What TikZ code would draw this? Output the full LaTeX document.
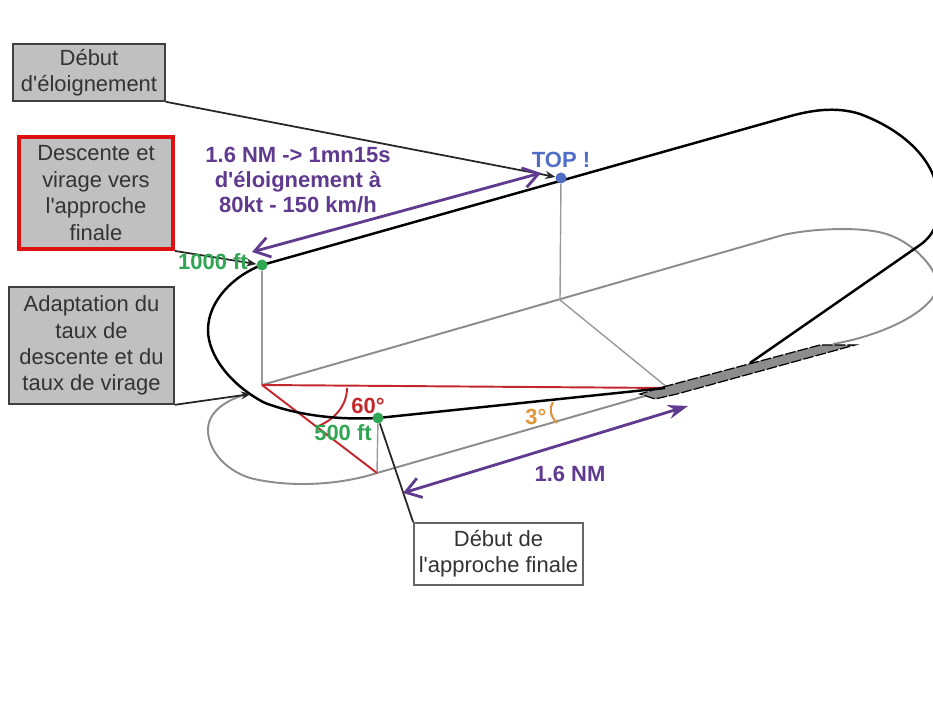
\documentclass[tikz,border=0pt]{standalone}
\usepackage{fontspec}
\setmainfont{Liberation Sans}[Ligatures=TeXOff]
\usetikzlibrary{arrows.meta,positioning,calc}
\definecolor{boxgray}{HTML}{C0C0C0}
\definecolor{ovalgray}{HTML}{8C8C8C}
\definecolor{thingray}{HTML}{9A9A9A}
\definecolor{anglered}{HTML}{C4272B}
\definecolor{boxred}{HTML}{DD1111}
\definecolor{pathpurple}{HTML}{5F3A8E}
\definecolor{dotgreen}{HTML}{2FA653}
\definecolor{topblue}{HTML}{4F6DC4}
\definecolor{slopeorange}{HTML}{E0963C}

\begin{document}
\begin{tikzpicture}[
    x=0.01cm, y=-0.01cm,
    note/.style={draw=black!75, line width=0.45pt, fill=boxgray, text=black!80, font=\fontsize{6.25}{7.5}\selectfont, align=center, inner sep=0pt},
    whitenote/.style={note, fill=white, draw=black!60},
    oval/.style={draw=ovalgray, line width=0.55pt},
    thingrayline/.style={draw=thingray, line width=0.4pt},
    flight/.style={draw=black, line width=0.7pt},
    redline/.style={draw=anglered, line width=0.55pt},
    leader/.style={draw=black!85, line width=0.5pt, -{Stealth[length=1mm,width=0.8mm]}},
    distline/.style={draw=pathpurple, line width=0.8pt},
    dot/.style={circle, inner sep=0pt, minimum size=0.1cm},
    tag/.style={font=\fontsize{6.25}{7.1}\selectfont\bfseries, align=center, inner sep=0pt}
]
    \useasboundingbox (0,0) rectangle (933,704);
    \fill[white] (0,0) rectangle (933,704);
    \clip (0,0) rectangle (933,704);

    % Points on the flight path
    \node[dot, fill=dotgreen] (alt1000) at (262,265) {};
    \node[dot, fill=topblue] (top) at (561,178) {};
    \node[dot, fill=dotgreen] (final) at (378,418) {};

    \coordinate (gcenter) at (262,385);
    \coordinate (gtop) at (560,300);
    \coordinate (gfinal) at (377,473);
    \coordinate (thr) at (665,388);

    % Ground track
    \draw[oval] (gcenter) -- (783,235) .. controls (815,228) and (860,227) .. (883,233)
        .. controls (910,240) and (935,265) .. (938,285)
        .. controls (935,310) and (885,335) .. (833,344);
    \draw[oval] (645,396) -- (gfinal) .. controls (340,485) and (290,488) .. (250,478)
        .. controls (225,470) and (208,450) .. (208,430)
        .. controls (208,412) and (225,400) .. (250,393);

    % Verticals
    \draw[thingrayline] (alt1000) -- (gcenter);
    \draw[thingrayline] (top) -- (gtop);
    \draw[thingrayline] (gtop) -- (668,388);
    \draw[thingrayline] (final) -- (gfinal);

    % Runway
    \draw[draw=black, dash pattern=on 3pt off 0.6pt, line width=0.35pt, fill=black!45]
        (663,387) -- (820,345) -- (855,345) -- (677,394) -- (655,399) -- (640,394) -- cycle;

    % Angle
    \draw[redline] (gcenter) -- (thr);
    \draw[redline] (gcenter) -- (gfinal);
    \draw[redline] (347,388) .. controls (347,405) and (335,420) .. (316,427);

    % Flight path
    \draw[flight] (thr) -- (final.center) .. controls (340,420) and (300,416) .. (265,403)
        .. controls (230,385) and (208,355) .. (208,330)
        .. controls (208,300) and (235,275) .. (alt1000.center)
        -- (787,117) .. controls (810,110.5) and (835,106) .. (860,114)
        .. controls (895,127) and (925,150) .. (935,180)
        .. controls (945,215) and (935,234.6) .. (920,245) -- (750,363);

    % Dots go back on top of the path
    \fill[dotgreen] (alt1000) circle (5.5);
    \fill[topblue] (top) circle (5.5);
    \fill[dotgreen] (final) circle (5.5);

    % Boxes
    \node[note, minimum width=1.52cm, minimum height=0.57cm] (eloign) at (89,72.5) {Début\\d'éloignement};
    \node[note, draw=boxred, line width=1.1pt, minimum width=1.54cm, minimum height=1.12cm,
        font=\fontsize{6.25}{7.6}\selectfont] (descente) at (96,193) {Descente et\\virage vers\\l'approche\\finale};
    \node[note, minimum width=1.65cm, minimum height=1.17cm,
        font=\fontsize{6.25}{7.45}\selectfont] (adapt) at (91.5,345.5) {Adaptation du\\taux de\\descente et du\\taux de virage};
    \node[whitenote, minimum width=1.69cm, minimum height=0.62cm] (approche) at (498.5,554) {Début de\\l'approche finale};

    % Leaders
    \coordinate (turn) at (251,394);
    \draw[leader] (eloign.south east) -- (top);
    \draw[leader] (descente.south east) -- (alt1000);
    \draw[leader] (adapt.south east) -- (turn);
    \draw[leader, -] (approche.north west) -- (final);

    % Distances
    \coordinate (d1a) at (252,252);
    \coordinate (d1b) at (541,173);
    \coordinate (d2a) at (403,493);
    \coordinate (d2b) at (688,406);
    \draw[distline, {Straight Barb[length=1.5mm,width=2mm]}-{Straight Barb[length=1.5mm,width=2mm]}] (d1a) -- (d1b);
    \draw[distline, {Straight Barb[length=1.5mm,width=2mm]}-{Stealth[length=2mm,width=1.4mm]}] (d2a) -- (d2b);

    % Labels
    \node[tag, text=pathpurple] (dist1) at (298,180) {1.6 NM -> 1mn15s\\d'éloignement à\\80kt - 150 km/h};
    \node[tag, text=pathpurple] (dist2) at (570,474) {1.6 NM};
    \node[tag, text=topblue] (toplabel) at (561,160) {TOP !};
    \node[tag, text=dotgreen] (label1000) at (213,262) {1000 ft};
    \node[tag, text=dotgreen] (label500) at (343,433) {500 ft};
    \node[tag, text=anglered] (label60) at (368,406) {60°};
    \node[tag, text=slopeorange] (label3) at (536,417) {3°};
    \draw[draw=slopeorange, line width=0.6pt] (553,402) .. controls (549,408) and (550,416) .. (557,423);
\end{tikzpicture}
\end{document}
